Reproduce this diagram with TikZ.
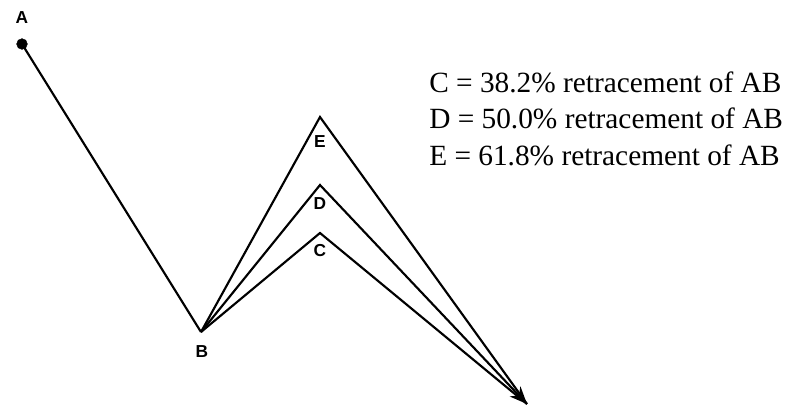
\documentclass[tikz,border=0pt]{standalone}
\usepackage{fontspec}
\setmainfont{Liberation Serif}
\setsansfont{Liberation Sans}
\usetikzlibrary{arrows.meta, positioning}
\tikzset{
    wave/.style={line width=1.6pt, black, line join=miter},
    wave_arrow/.style={wave, -{Stealth[length=13pt, width=11pt]}},
    pt_label/.style={font=\sffamily\bfseries\fontsize{13}{14}\selectfont, inner sep=1pt},
    note/.style={font=\fontsize{22}{26}\selectfont, anchor=base west, inner sep=0pt}
}
\begin{document}
\begin{tikzpicture}[x=0.75pt, y=-0.75pt]

    \useasboundingbox (0,0) rectangle (793,405);

    % Points
    \coordinate (pA) at (22,44);
    \coordinate (pB) at (201,332);
    \coordinate (pC) at (320,233);
    \coordinate (pD) at (320,185);
    \coordinate (pE) at (320,117);
    \coordinate (pEnd) at (527,404);

    % Lines
    \draw[wave] (pA) -- (pB);
    \draw[wave] (pB) -- (pE) -- (pEnd);
    \draw[wave] (pB) -- (pC) -- (pEnd);
    \draw[wave_arrow] (pB) -- (pD) -- (pEnd);
    \filldraw[black] (pA) circle (4pt);

    % Point labels
    \node[pt_label] (lA) at (22,18) {A};
    \node[pt_label] (lB) at (202,352) {B};
    \node[pt_label] (lE) at (320,142) {E};
    \node[pt_label] (lD) at (320,204) {D};
    \node[pt_label] (lC) at (320,251) {C};

    % Retracement notes
    \node[note] (noteC) at (429,92) {C = 38.2\% retracement of AB};
    \node[note] (noteD) at (429,128) {D = 50.0\% retracement of AB};
    \node[note] (noteE) at (429,165) {E = 61.8\% retracement of AB};

\end{tikzpicture}
\end{document}
